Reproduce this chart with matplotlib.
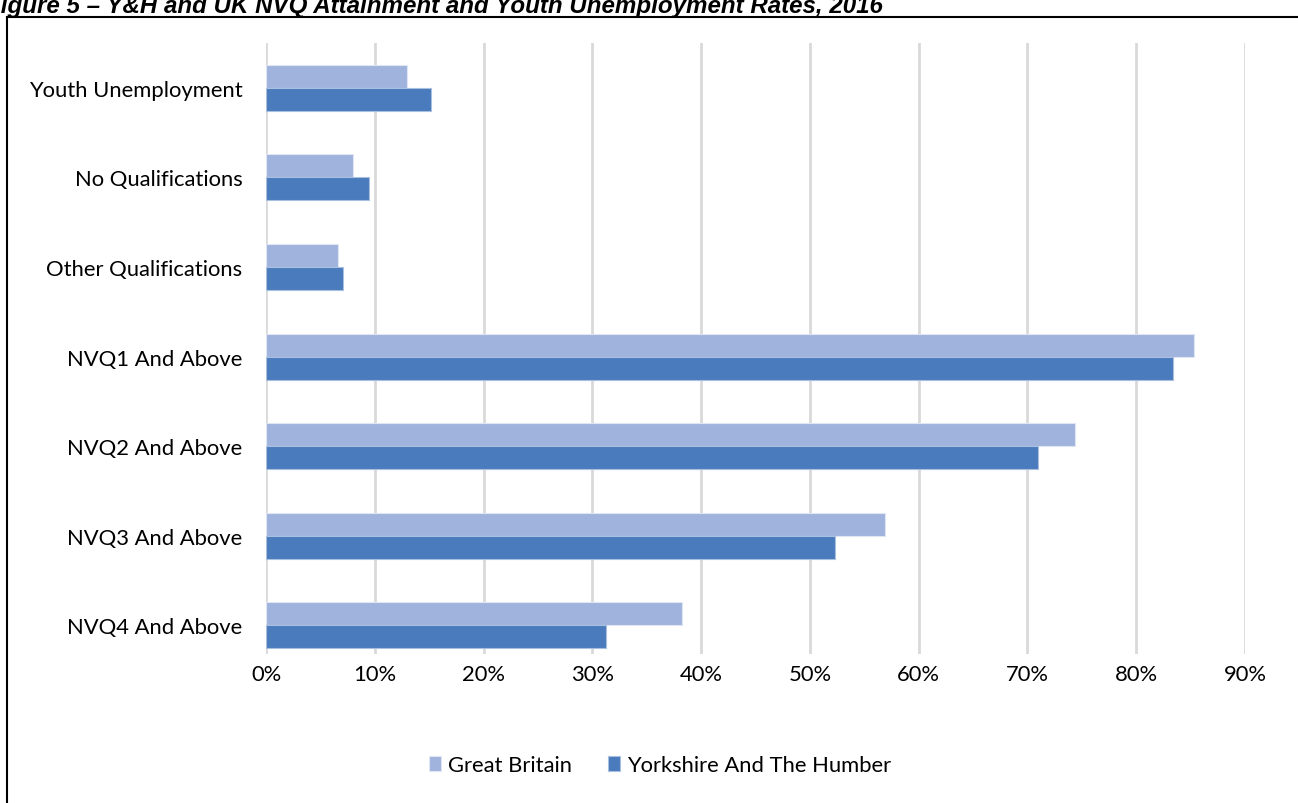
import matplotlib.pyplot as plt
from matplotlib.lines import Line2D
from matplotlib.ticker import FuncFormatter
import numpy as np

categories = ['Youth Unemployment', 'No Qualifications', 'Other Qualifications',
              'NVQ1 And Above', 'NVQ2 And Above', 'NVQ3 And Above', 'NVQ4 And Above']
great_britain = [13.0, 8.0, 6.6, 85.3, 74.4, 56.9, 38.2]
yorkshire = [15.2, 9.5, 7.1, 83.4, 71.0, 52.3, 31.3]
x_ticks = [0, 10, 20, 30, 40, 50, 60, 70, 80, 90]

light = '#a0b3dc'
dark = '#4a7bbd'
font = 'Lato'
fs = 15.8

W, H = 1298, 804
fig = plt.figure(figsize=(W / 100, H / 100), dpi=100)
# plot area: x from 266 to 1245 px, y from 44 to 655 px
ax = fig.add_axes([266 / W, 1 - 655 / H, (1245 - 266) / W, (655 - 44) / H])

y = np.arange(len(categories))
h = 0.257
ax.barh(y - h / 2, great_britain, height=h, color=light, edgecolor='#dfe6f3',
        linewidth=0.8, label='Great Britain', zorder=3)
ax.barh(y + h / 2, yorkshire, height=h, color=dark, edgecolor='#a9bfe0',
        linewidth=0.8, label='Yorkshire And The Humber', zorder=3)

ax.set_ylim(6.32, -0.5)
ax.set_xlim(0, 90)
ax.set_yticks(y)
ax.set_yticklabels(categories, fontsize=fs, family=font)
ax.set_xticks(x_ticks)
ax.xaxis.set_major_formatter(FuncFormatter(lambda v, p: f'{v:.0f}%'))
for lab in ax.get_xticklabels():
    lab.set_fontsize(fs)
    lab.set_family(font)
ax.tick_params(length=0)
ax.tick_params(axis='y', pad=17)
ax.tick_params(axis='x', pad=7)
ax.grid(axis='x', color='#d9d9d9', linewidth=2, zorder=0)
for s in ax.spines.values():
    s.set_visible(False)

fig.legend(loc='center', bbox_to_anchor=(660 / W, 1 - 766 / H), ncol=2, frameon=False,
           prop={'family': font, 'size': fs}, handlelength=0.55, handleheight=0.7,
           handletextpad=0.3, columnspacing=1.65)

# outer frame (partly cut off like the source)
fig.add_artist(Line2D([7 / W, 1.0], [1 - 18 / H, 1 - 18 / H], color='black', lw=1.5))
fig.add_artist(Line2D([7 / W, 7 / W], [0, 1 - 18 / H], color='black', lw=1.5))

fig.text(-14 / W, 1 - 13 / H,
         'Figure 5 \u2013 Y&H and UK NVQ Attainment and Youth Unemployment Rates, 2016',
         fontsize=17.4, fontweight='bold', fontstyle='italic', family='Liberation Sans',
         va='baseline', ha='left')

fig.savefig('out.png', dpi=100)
